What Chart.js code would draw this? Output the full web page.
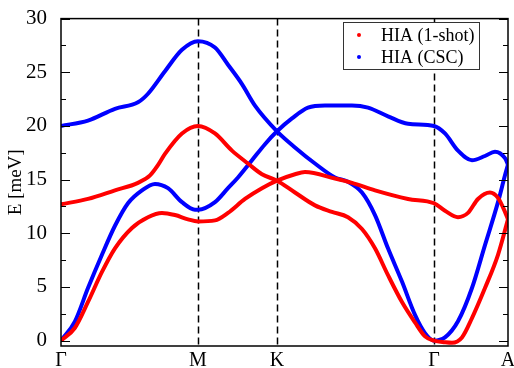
<!DOCTYPE html>
<html>
<head>
<meta charset="utf-8">
<script src="https://cdn.jsdelivr.net/npm/chart.js@4.4.1/dist/chart.umd.min.js"></script>
<style>
  html, body { margin: 0; padding: 0; background: #fff; }
</style>
</head>
<body>
<canvas id="chart" width="514" height="368"></canvas>
<script>
// high-symmetry points along the path (Γ-M = 1)
const symPos = [0, 1, 1.577, 2.723, 3.263];
const symLabels = ['Γ', 'M', 'K', 'Γ', 'A'];
const yTicks = [0, 5, 10, 15, 20, 25, 30];

// HIA (1-shot), two branches
const redAx = [0, 0.197, 0.394, 0.562, 0.65, 0.71, 0.759, 0.883, 1.0, 1.124, 1.248, 1.365, 1.467, 1.577,
  1.708, 1.854, 1.978, 2.095, 2.197, 2.292, 2.387, 2.489, 2.584, 2.657, 2.723, 2.803, 2.854, 2.927,
  3.0, 3.095, 3.19, 3.263];
const redAy = [12.7, 13.2, 14.0, 14.7, 15.4, 16.4, 17.4, 19.3, 20.0, 19.3, 17.7, 16.5, 15.5, 14.9,
  13.8, 12.6, 12.0, 11.5, 10.4, 8.6, 6.1, 3.6, 1.7, 0.4, 0.0, -0.15, -0.2, 0.3,
  2.1, 4.9, 8.0, 11.3];
const redBx = [0, 0.102, 0.197, 0.299, 0.394, 0.518, 0.635, 0.737, 0.832, 0.927, 1.0, 1.124, 1.219,
  1.343, 1.467, 1.577, 1.708, 1.781, 2.0, 2.124, 2.292, 2.533, 2.723, 2.803, 2.898, 2.971, 3.044,
  3.131, 3.19, 3.241, 3.263];
const redBy = [0.0, 1.2, 3.6, 6.4, 8.6, 10.5, 11.5, 11.9, 11.7, 11.3, 11.1, 11.2, 11.9,
  13.2, 14.2, 14.9, 15.5, 15.7, 15.1, 14.7, 14.0, 13.2, 12.8, 12.1, 11.5, 11.9, 13.2,
  13.8, 13.3, 12.0, 11.3];

// HIA (CSC), two branches
const blueAx = [0, 0.197, 0.394, 0.562, 0.635, 0.759, 0.883, 1.0, 1.124, 1.219, 1.321, 1.416, 1.577,
  1.708, 1.854, 2.0, 2.095, 2.197, 2.292, 2.387, 2.489, 2.584, 2.657, 2.723, 2.803, 2.898, 3.0,
  3.095, 3.19, 3.241, 3.263];
const blueAy = [20.0, 20.5, 21.6, 22.2, 23.0, 25.1, 27.1, 27.9, 27.3, 25.7, 23.9, 21.9, 19.5,
  18.0, 16.5, 15.2, 14.8, 13.8, 11.7, 8.6, 5.5, 2.4, 0.7, 0.0, 0.3, 1.8, 4.9,
  8.9, 12.9, 15.4, 16.4];
const blueBx = [0, 0.102, 0.197, 0.299, 0.394, 0.489, 0.591, 0.686, 0.781, 0.883, 0.978, 1.0, 1.124,
  1.219, 1.292, 1.394, 1.489, 1.577, 1.686, 1.803, 1.927, 2.124, 2.241, 2.387, 2.533, 2.723, 2.803,
  2.898, 3.0, 3.095, 3.168, 3.241, 3.263];
const blueBy = [0.0, 1.8, 4.9, 8.0, 10.7, 12.8, 14.0, 14.6, 14.2, 12.9, 12.2, 12.2, 12.9,
  14.2, 15.2, 16.8, 18.3, 19.5, 20.7, 21.7, 21.9, 21.9, 21.7, 20.9, 20.2, 20.0, 19.3,
  17.7, 16.8, 17.2, 17.6, 17.0, 16.4];

const legendLabels = ['HIA (1-shot)', 'HIA (CSC)'];
const RED = '#ff0000', BLUE = '#0000ff';

const zip = (xs, ys) => xs.map((x, i) => ({x: x, y: ys[i]}));

const line = (xs, ys, color) => ({
  data: zip(xs, ys),
  borderColor: color,
  borderWidth: 4,
  pointRadius: 0,
  fill: false,
  cubicInterpolationMode: 'monotone'
});

Chart.defaults.font.family = '"Liberation Serif", "DejaVu Serif", serif';
Chart.defaults.color = '#000';

const frame = {
  id: 'frame',
  beforeDatasetsDraw(chart) {
    const {ctx, chartArea: a, scales: {x}} = chart;
    ctx.save();
    ctx.strokeStyle = '#000';
    ctx.lineWidth = 1.5;
    ctx.setLineDash([7, 4]);
    symPos.slice(1, -1).forEach(v => {
      const px = Math.round(x.getPixelForValue(v)) + 0.5;
      ctx.beginPath();
      ctx.moveTo(px, a.top);
      ctx.lineTo(px, a.bottom);
      ctx.stroke();
    });
    ctx.restore();
  },
  afterDatasetsDraw(chart) {
    const {ctx, chartArea: a, scales: {y}} = chart;
    ctx.save();
    ctx.strokeStyle = '#000';
    ctx.lineWidth = 1.5;
    ctx.strokeRect(a.left, a.top, a.right - a.left, a.bottom - a.top);
    ctx.lineWidth = 1;
    for (let v = 0; v <= 30; v += 2.5) {
      const py = Math.round(y.getPixelForValue(v)) + 0.5;
      const len = v % 5 === 0 ? 9 : 5;
      ctx.beginPath();
      ctx.moveTo(a.left, py); ctx.lineTo(a.left + len, py);
      ctx.moveTo(a.right, py); ctx.lineTo(a.right - len, py);
      ctx.stroke();
    }
    // legend
    const bx = 343.5, by = 22.5, bw = 136, bh = 47;
    ctx.fillStyle = '#fff';
    ctx.fillRect(bx, by, bw, bh);
    ctx.strokeStyle = '#333';
    ctx.lineWidth = 1;
    ctx.strokeRect(bx, by, bw, bh);
    ctx.font = '18px "Liberation Serif", serif';
    ctx.textBaseline = 'alphabetic';
    ctx.textAlign = 'left';
    [RED, BLUE].forEach((c, i) => {
      const cy = 35 + i * 22;
      ctx.fillStyle = c;
      ctx.beginPath();
      ctx.arc(359, cy, 2, 0, Math.PI * 2);
      ctx.fill();
      ctx.fillStyle = '#000';
      ctx.fillText(legendLabels[i], 381, cy + 6);
    });
    ctx.restore();
  }
};

new Chart(document.getElementById('chart').getContext('2d'), {
  type: 'line',
  data: {
    datasets: [
      line(redAx, redAy, RED),
      line(redBx, redBy, RED),
      line(blueAx, blueAy, BLUE),
      line(blueBx, blueBy, BLUE)
    ]
  },
  options: {
    responsive: false,
    animation: false,
    layout: {padding: {top: 17, right: 6, left: 0, bottom: 0}},
    plugins: {legend: {display: false}, tooltip: {enabled: false}},
    scales: {
      x: {
        type: 'linear',
        min: 0,
        max: symPos[symPos.length - 1],
        grid: {display: false},
        border: {display: false},
        afterBuildTicks: s => { s.ticks = symPos.map(v => ({value: v})); },
        afterFit: s => { s.height = 22; },
        ticks: {
          padding: -5,
          maxRotation: 0,
          autoSkip: false,
          font: {size: 20},
          callback: (v, i) => symLabels[i]
        }
      },
      y: {
        min: -0.5,
        max: 30,
        grid: {display: false},
        border: {display: false},
        afterBuildTicks: s => { s.ticks = yTicks.map(v => ({value: v})); },
        afterFit: s => { s.width = 61; },
        ticks: {padding: 6, font: {size: 21}},
        title: {display: true, text: 'E [meV]', font: {size: 19}, padding: {top: 5}}
      }
    }
  },
  plugins: [frame]
});
</script>
</body>
</html>
